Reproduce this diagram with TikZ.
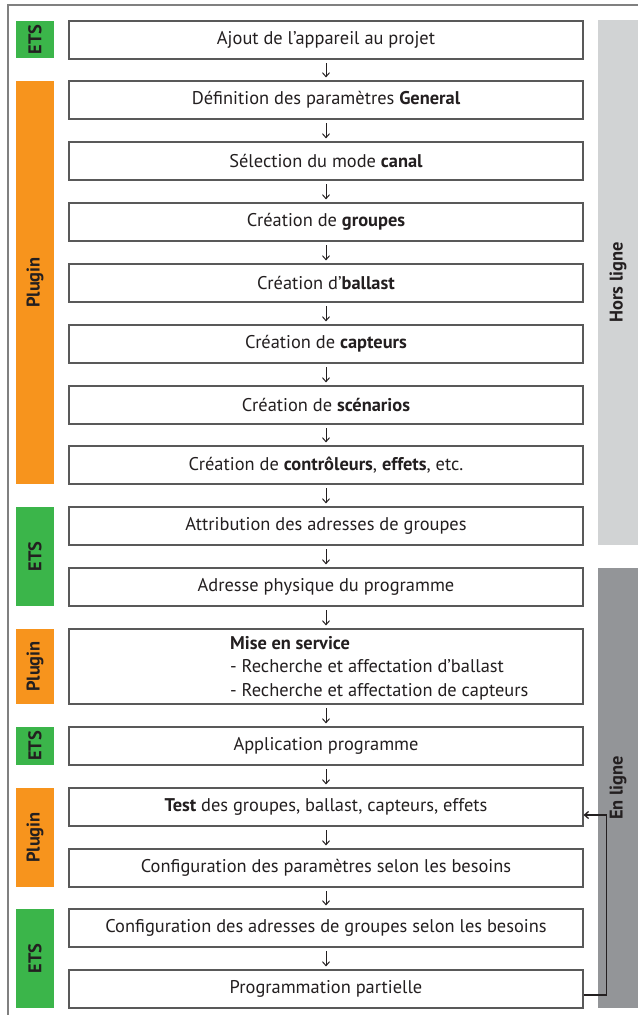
\documentclass[tikz,border=0pt]{standalone}
\usepackage{fontspec}
\setmainfont{PT Sans}
\usetikzlibrary{arrows.meta}

\definecolor{etsvert}{RGB}{59,181,74}
\definecolor{pluginorange}{RGB}{247,148,29}
\definecolor{horsgris}{RGB}{209,211,212}
\definecolor{engris}{RGB}{147,149,152}
\definecolor{texte}{RGB}{35,31,32}

\tikzset{
	etape/.style={draw=black!65, line width=1.1pt, fill=white, minimum width=514pt,
		minimum height=38pt, inner sep=0pt, align=center, text=texte},
	onglet/.style={rotate=90, minimum height=38pt, inner sep=0pt, text=texte,
		font=\fontsize{18.4}{22}\selectfont\bfseries},
	bande/.style={rotate=90, minimum height=40pt, inner sep=0pt, text=texte,
		font=\fontsize{18.4}{22}\selectfont\bfseries},
	fleche/.style={-{Straight Barb[length=4pt,width=7pt]}, line width=1pt, texte,
		shorten <=3.5pt, shorten >=3pt},
	retour/.style={-{Straight Barb[length=4pt,width=7pt]}, line width=1.3pt, texte},
}

\begin{document}
\begin{tikzpicture}[x=1pt,y=-1pt,font=\fontsize{18.4}{22}\selectfont]
		\useasboundingbox (0,0) rectangle (638,1015);
		% le cadre
			\draw[black!50, line width=1.5pt] (8,1015) -- (8,5) -- (638,5);

		% les bandes Hors ligne / En ligne
			\node[bande, fill=horsgris, minimum width=525pt] (hors) at (618,282.5) {Hors ligne};
			\node[bande, fill=engris, minimum width=440pt] (en) at (618,788) {En ligne};

		% les onglets ETS / Plugin
			\node[onglet, fill=etsvert, minimum width=37pt] (o1) at (35,39.5) {ETS};
			\node[onglet, fill=pluginorange, minimum width=403pt] (o2) at (35,282.5) {Plugin};
			\node[onglet, fill=etsvert, minimum width=99pt] (o3) at (35,556.5) {ETS};
			\node[onglet, fill=pluginorange, minimum width=75pt] (o4) at (35,666.5) {Plugin};
			\node[onglet, fill=etsvert, minimum width=38pt] (o5) at (35,746) {ETS};
			\node[onglet, fill=pluginorange, minimum width=99pt] (o6) at (35,837.5) {Plugin};
			\node[onglet, fill=etsvert, minimum width=99pt] (o7) at (35,958.5) {ETS};

		% les etapes
			\node[etape] (b1) at (326,40) {Ajout de l’appareil au projet};
			\node[etape] (b2) at (326,100) {Définition des paramètres \textbf{General}};
			\node[etape] (b3) at (326,161) {Sélection du mode \textbf{canal}};
			\node[etape] (b4) at (326,222) {Création de \textbf{groupes}};
			\node[etape] (b5) at (326,283) {Création d’\textbf{ballast}};
			\node[etape] (b6) at (326,344) {Création de \textbf{capteurs}};
			\node[etape] (b7) at (326,405) {Création de \textbf{scénarios}};
			\node[etape] (b8) at (326,465) {Création de \textbf{contrôleurs}, \textbf{effets}, etc.};
			\node[etape] (b9) at (326,526) {Attribution des adresses de groupes};
			\node[etape] (b10) at (326,587) {Adresse physique du programme};
			\node[etape, minimum height=75pt] (b11) at (326,666.5) {};
			\node[align=left, anchor=west, inner sep=0pt, text=texte,
				font=\fontsize{18.4}{23.5}\selectfont] (b11txt) at (230,668)
				{\textbf{Mise en service}\\- Recherche et affectation d’ballast\\- Recherche et affectation de capteurs};
			\node[etape] (b12) at (326,746) {Application programme};
			\node[etape] (b13) at (326,807) {\textbf{Test} des groupes, ballast, capteurs, effets};
			\node[etape] (b14) at (326,868) {Configuration des paramètres selon les besoins};
			\node[etape] (b15) at (326,928) {Configuration des adresses de groupes selon les besoins};
			\node[etape] (b16) at (326,989) {Programmation partielle};

		% les fleches
			\draw[fleche] (b1) -- (b2);
			\draw[fleche] (b2) -- (b3);
			\draw[fleche] (b3) -- (b4);
			\draw[fleche] (b4) -- (b5);
			\draw[fleche] (b5) -- (b6);
			\draw[fleche] (b6) -- (b7);
			\draw[fleche] (b7) -- (b8);
			\draw[fleche] (b8) -- (b9);
			\draw[fleche] (b9) -- (b10);
			\draw[fleche] (b10) -- (b11);
			\draw[fleche] (b11) -- (b12);
			\draw[fleche] (b12) -- (b13);
			\draw[fleche] (b13) -- (b14);
			\draw[fleche] (b14) -- (b15);
			\draw[fleche] (b15) -- (b16);
			\draw[retour] ([yshift=-6pt]b16.east) -- ++(23,0) |- ([yshift=-8pt]b13.east);
	\end{tikzpicture}
\end{document}
